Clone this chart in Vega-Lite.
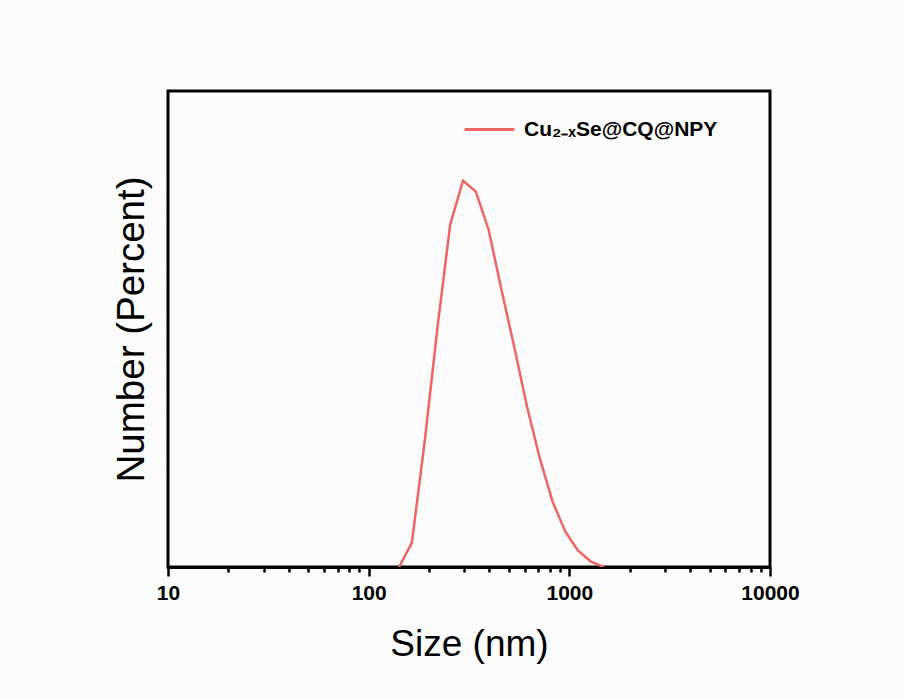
{
  "$schema": "https://vega.github.io/schema/vega-lite/v6.json",
  "width": 602,
  "height": 476,
  "autosize": {"type": "none"},
  "padding": {"left": 168, "top": 91, "right": 134, "bottom": 131},
  "background": "#FCFCFC",
  "config": {
    "view": {"stroke": "#000000", "strokeWidth": 3, "fill": "#FCFCFC"},
    "font": "Liberation Sans"
  },
  "data": {
    "values": [
      {"size": 141.8, "pct": 0, "sample": "Cu₂₋ₓSe@CQ@NPY"},
      {"size": 164.2, "pct": 0.9, "sample": "Cu₂₋ₓSe@CQ@NPY"},
      {"size": 190.1, "pct": 4.6, "sample": "Cu₂₋ₓSe@CQ@NPY"},
      {"size": 220.2, "pct": 8.8, "sample": "Cu₂₋ₓSe@CQ@NPY"},
      {"size": 255.0, "pct": 12.6, "sample": "Cu₂₋ₓSe@CQ@NPY"},
      {"size": 295.3, "pct": 14.2, "sample": "Cu₂₋ₓSe@CQ@NPY"},
      {"size": 342.0, "pct": 13.8, "sample": "Cu₂₋ₓSe@CQ@NPY"},
      {"size": 396.1, "pct": 12.4, "sample": "Cu₂₋ₓSe@CQ@NPY"},
      {"size": 458.7, "pct": 10.2, "sample": "Cu₂₋ₓSe@CQ@NPY"},
      {"size": 531.2, "pct": 8.1, "sample": "Cu₂₋ₓSe@CQ@NPY"},
      {"size": 615.1, "pct": 5.9, "sample": "Cu₂₋ₓSe@CQ@NPY"},
      {"size": 712.4, "pct": 4.0, "sample": "Cu₂₋ₓSe@CQ@NPY"},
      {"size": 825.0, "pct": 2.4, "sample": "Cu₂₋ₓSe@CQ@NPY"},
      {"size": 955.4, "pct": 1.3, "sample": "Cu₂₋ₓSe@CQ@NPY"},
      {"size": 1106, "pct": 0.6, "sample": "Cu₂₋ₓSe@CQ@NPY"},
      {"size": 1281, "pct": 0.2, "sample": "Cu₂₋ₓSe@CQ@NPY"},
      {"size": 1484, "pct": 0, "sample": "Cu₂₋ₓSe@CQ@NPY"}
    ]
  },
  "mark": {"type": "line", "strokeWidth": 2.5, "clip": true},
  "encoding": {
    "x": {
      "field": "size",
      "type": "quantitative",
      "scale": {"type": "log", "domain": [10, 10000], "nice": false},
      "axis": {
        "title": "Size (nm)",
        "titleFontSize": 37,
        "titleFontWeight": "normal",
        "titleColor": "#000000",
        "titlePadding": 23,
        "values": [10, 20, 30, 40, 50, 60, 70, 80, 90, 100, 200, 300, 400, 500, 600, 700, 800, 900, 1000, 2000, 3000, 4000, 5000, 6000, 7000, 8000, 9000, 10000],
        "format": "d",
        "labelExpr": "datum.value == 10 || datum.value == 100 || datum.value == 1000 || datum.value == 10000 ? datum.label : ''",
        "labelFontSize": 21,
        "labelFontWeight": "bold",
        "labelColor": "#000000",
        "labelFlush": false,
        "labelOverlap": false,
        "labelPadding": 6,
        "grid": false,
        "domain": true,
        "domainColor": "#000000",
        "domainWidth": 3,
        "tickColor": "#000000",
        "tickWidth": 2.5,
        "tickSize": {
          "condition": {"test": "datum.value == 10 || datum.value == 100 || datum.value == 1000 || datum.value == 10000", "value": 9},
          "value": 5
        }
      }
    },
    "y": {
      "field": "pct",
      "type": "quantitative",
      "scale": {"domain": [0, 17.5], "nice": false, "zero": true},
      "axis": {
        "title": "Number (Percent)",
        "titleFontSize": 38.5,
        "titleFontWeight": "normal",
        "titleColor": "#000000",
        "titlePadding": 17,
        "labels": false,
        "ticks": false,
        "domain": false,
        "grid": false
      }
    },
    "color": {
      "field": "sample",
      "type": "nominal",
      "scale": {"range": ["#EF6464"]},
      "legend": {
        "title": null,
        "orient": "none",
        "legendX": 295,
        "legendY": 12,
        "symbolType": "stroke",
        "symbolSize": 2500,
        "symbolStrokeWidth": 3,
        "labelFontSize": 21,
        "labelFontWeight": "bold",
        "labelColor": "#000000",
        "labelLimit": 400,
        "labelOffset": 8
      }
    }
  }
}
